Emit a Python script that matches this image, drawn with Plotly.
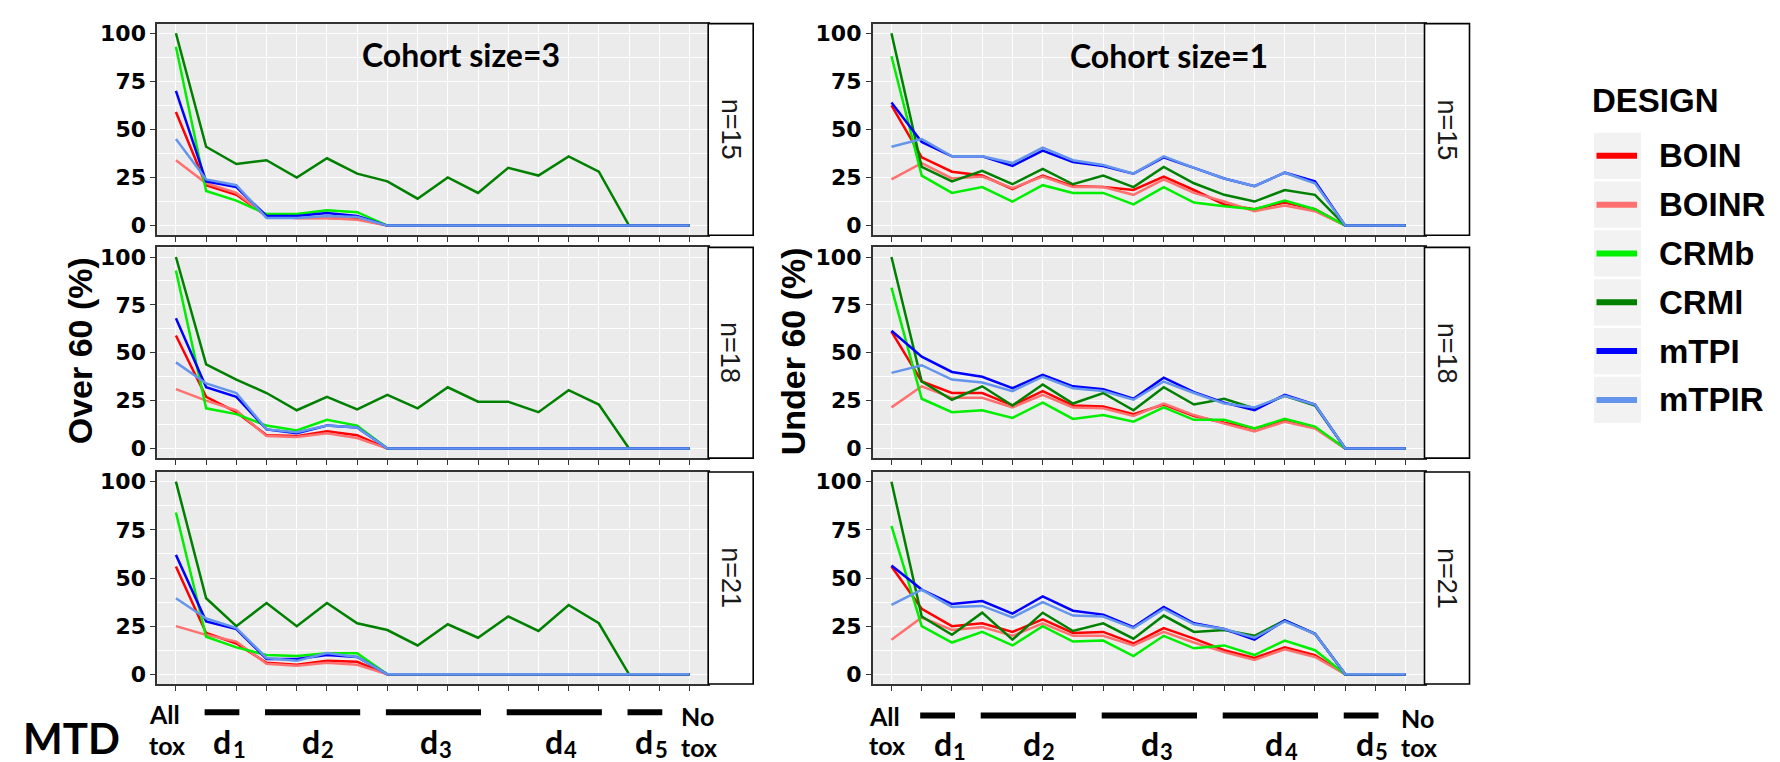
import plotly.graph_objects as go

# ---------------- data ----------------
designs = ["BOIN", "BOINR", "CRMb", "CRMl", "mTPI", "mTPIR"]
colors = {"BOIN": "#FF0000", "BOINR": "#FF7070", "CRMb": "#00EE00",
          "CRMl": "#008000", "mTPI": "#0000FF", "mTPIR": "#6495ED"}
x_positions = list(range(18))
row_labels = ["n=15", "n=18", "n=21"]
col_titles = ["Cohort size=3", "Cohort size=1"]
y_titles = ["Over 60 (%)", "Under 60 (%)"]
y_ticks = [0, 25, 50, 75, 100]

Z11 = [0] * 11
Z3 = [0, 0, 0]

over_n15 = {
    "BOIN":  [59, 21, 16, 5, 4, 4, 3.5] + Z11,
    "BOINR": [34, 22, 17, 5, 4, 4, 3] + Z11,
    "CRMb":  [93, 18, 13, 6, 6, 8, 7] + Z11,
    "CRMl":  [100, 41, 32, 34, 25, 35, 27, 23, 14, 25, 17, 30, 26, 36, 28] + Z3,
    "mTPI":  [70, 23, 20, 5, 5, 6.5, 5] + Z11,
    "mTPIR": [45, 24, 21, 4, 4, 5, 4.5] + Z11,
}
over_n18 = {
    "BOIN":  [59, 27, 19, 7, 6.5, 9, 7] + Z11,
    "BOINR": [31, 25, 20, 6.5, 6, 8, 5.5] + Z11,
    "CRMb":  [93, 21, 18, 12, 9.5, 15, 12] + Z11,
    "CRMl":  [100, 44, 36, 29, 20, 27, 20.5, 28, 21, 32, 24.5, 24.5, 19, 30.5, 23] + Z3,
    "mTPI":  [68, 32, 27, 10, 8, 12, 11] + Z11,
    "mTPIR": [45, 34, 29, 10, 8.5, 12, 11] + Z11,
}
over_n21 = {
    "BOIN":  [56, 21.5, 16, 6, 5, 7, 6.5] + Z11,
    "BOINR": [25, 20.5, 17, 5.5, 4.5, 6, 5] + Z11,
    "CRMb":  [84, 19.5, 14, 10, 9.5, 11, 11] + Z11,
    "CRMl":  [100, 39.5, 25, 37, 25, 37, 26.5, 23, 15, 26, 19, 30, 22.5, 36, 26.5] + Z3,
    "mTPI":  [62, 27.5, 23.5, 8, 8, 10, 9] + Z11,
    "mTPIR": [39.5, 29, 24, 8.5, 7, 11, 9] + Z11,
}
under_n15 = {
    "BOIN":  [62.5, 35.5, 28, 26, 19, 26, 20.5, 20, 18.5, 25.5, 18.5, 11, 8.5, 12, 8.5] + Z3,
    "BOINR": [24, 32.5, 24.5, 25.5, 19.5, 25.5, 20, 20, 16, 24, 17, 12.5, 7.5, 10.5, 7.5] + Z3,
    "CRMb":  [88, 26, 17, 20, 12.5, 21, 17, 17, 11, 20, 12, 10, 8.5, 13, 8.5] + Z3,
    "CRMl":  [100, 30.5, 23, 28.5, 21.5, 29.5, 21.5, 26, 20, 30.5, 22, 16, 12.5, 18.5, 16] + Z3,
    "mTPI":  [64, 43.5, 36, 36, 31, 39, 33, 31, 27, 35.5, 30, 24.5, 20.5, 27.5, 23] + Z3,
    "mTPIR": [41, 45, 36, 36, 32.5, 40.5, 34, 31.5, 27, 36, 30, 24.5, 20.5, 27.5, 22] + Z3,
}
under_n18 = {
    "BOIN":  [61, 35, 29, 29, 22.5, 30, 22.5, 22, 18, 23, 17, 13.5, 10.5, 14.5, 11] + Z3,
    "BOINR": [21.5, 32.5, 26.5, 26.5, 21.5, 28, 21.5, 21, 17, 23.5, 17.5, 13, 9, 14, 10.5] + Z3,
    "CRMb":  [84, 26, 19, 20, 16, 24, 15.5, 17.5, 14, 21.5, 15, 15, 10.5, 15.5, 11.5] + Z3,
    "CRMl":  [100, 35, 25.5, 32.5, 22.5, 33.5, 23.5, 29, 20, 32, 23, 26, 21, 27.5, 22.5] + Z3,
    "mTPI":  [61.5, 48, 40, 37.5, 31.5, 38.5, 32.5, 31, 26, 37, 29.5, 24, 20, 28, 23] + Z3,
    "mTPIR": [39.5, 43.5, 36, 34.5, 30, 37.5, 31.5, 30, 25.5, 35, 29, 23.5, 21.5, 27.5, 23] + Z3,
}
under_n21 = {
    "BOIN":  [56, 34, 25, 26.5, 22, 28.5, 21.5, 22, 16, 24, 18.5, 12.5, 8.5, 14, 10] + Z3,
    "BOINR": [18, 29.5, 23, 24.5, 20, 26.5, 20, 20, 15, 22, 16.5, 11.5, 7.5, 13, 9] + Z3,
    "CRMb":  [77, 25, 16.5, 22, 15, 25, 17, 17.5, 9.5, 20, 13.5, 15, 10, 17.5, 12.5] + Z3,
    "CRMl":  [100, 30, 20.5, 32, 18, 32, 22.5, 26.5, 18.5, 30.5, 22, 23, 20, 28, 21] + Z3,
    "mTPI":  [56.5, 44, 36.5, 38, 31.5, 40.5, 33, 31, 24.5, 35, 26.5, 23.5, 18, 28, 21] + Z3,
    "mTPIR": [36, 44, 35, 35.5, 29.5, 37.5, 30.5, 30, 24, 34, 26, 23.5, 19, 27.5, 21] + Z3,
}
panels = [[over_n15, over_n18, over_n21], [under_n15, under_n18, under_n21]]

# MTD groups: (subscript, first x, last x)
mtd_groups = [("1", 1, 2), ("2", 3, 6), ("3", 7, 10), ("4", 11, 14), ("5", 15, 16)]

# ---------------- layout helpers ----------------
W, H = 1780, 762
def px(x):
    return x / W
def py(y):
    return 1 - y / H

col_px = [(149.2, 700.2), (864.7, 1416.5)]
strip_w = 45
row_px = [(12.7, 226.0), (238.3, 450.7), (464.7, 678.3)]
x_range = [-0.62, 17.62]

def data_to_px(c, xv):
    a, b = col_px[c]
    return a + (xv - x_range[0]) / (x_range[1] - x_range[0]) * (b - a)

fig = go.Figure()
layout = dict(
    width=W, height=H, margin=dict(l=0, r=0, t=0, b=0),
    paper_bgcolor="white", plot_bgcolor="#EBEBEB", showlegend=False,
)
shapes, annotations = [], []
AX_FONT = dict(family="DejaVu Sans", size=22, color="black", weight="bold")

def note(text, x, y, size, family, xanchor="center", yanchor="middle", angle=0,
         color="black", weight="bold"):
    annotations.append(dict(text=text, xref="paper", yref="paper", x=px(x), y=py(y),
                            xanchor=xanchor, yanchor=yanchor, textangle=angle,
                            showarrow=False, borderpad=0,
                            font=dict(family=family, size=size, color=color, weight=weight)))

for c in range(2):
    for r in range(3):
        idx = c * 3 + r + 1
        xa = "x" if idx == 1 else f"x{idx}"
        ya = "y" if idx == 1 else f"y{idx}"
        data = panels[c][r]
        for d in designs:
            fig.add_trace(go.Scatter(
                x=x_positions, y=data[d], mode="lines", name=d,
                line=dict(color=colors[d], width=2.5),
                xaxis=xa, yaxis=ya, showlegend=False,
            ))
        x0p, x1p = col_px[c]
        y0p, y1p = row_px[r]
        layout[f"xaxis{'' if idx == 1 else idx}"] = dict(
            domain=[px(x0p), px(x1p)], anchor=ya, range=x_range,
            tickvals=x_positions, ticktext=[""] * 18, showgrid=True,
            gridcolor="white", gridwidth=1.3, ticks="outside", ticklen=5,
            tickcolor="#333333", tickwidth=1.2, showline=True, mirror=True,
            linecolor="#333333", linewidth=1.6, zeroline=False, fixedrange=True,
        )
        layout[f"yaxis{'' if idx == 1 else idx}"] = dict(
            domain=[py(y1p), py(y0p)], anchor=xa, range=[-5, 105],
            tickvals=y_ticks, ticktext=[str(v) for v in y_ticks],
            tickfont=AX_FONT, showgrid=True, gridcolor="white", gridwidth=1.3,
            minor=dict(tickvals=[12.5, 37.5, 62.5, 87.5], showgrid=True,
                       gridcolor="white", gridwidth=0.6, ticks=""),
            ticks="outside", ticklen=5, tickcolor="#333333", tickwidth=1.2,
            showline=True, mirror=True, linecolor="#333333", linewidth=1.6,
            zeroline=False, fixedrange=True,
        )
        # facet strip
        shapes.append(dict(type="rect", xref="paper", yref="paper",
                           x0=px(x1p), x1=px(x1p + strip_w), y0=py(y1p), y1=py(y0p),
                           fillcolor="white", line=dict(color="black", width=1.6)))
        note(row_labels[r], x1p + strip_w / 2, (y0p + y1p) / 2, 27, "Liberation Sans",
             angle=90, color="#1A1A1A", weight="normal")

# column titles (inside top panels)
for c, (cx, cy) in enumerate([(453, 44), (1161, 45)]):
    note(col_titles[c], cx, cy, 32, "Lato")

# y titles
for c, cx in enumerate([72, 785]):
    note(y_titles[c], cx, 343, 34, "Liberation Sans", angle=-90)

# MTD bottom labels
bottom_cfg = [
    dict(c=0, xa="x3", bar_y=706.7, dy=0, all_px=140, no_px=672,
         dcent=[1.68, 4.62, 8.51, 12.66, 15.66]),
    dict(c=1, xa="x6", bar_y=710, dy=2, all_px=860, no_px=1392,
         dcent=[1.84, 4.78, 8.68, 12.81, 15.79]),
]
for cfg in bottom_cfg:
    dy = cfg["dy"]
    for (sub, a, b), xc in zip(mtd_groups, cfg["dcent"]):
        shapes.append(dict(type="line", xref=cfg["xa"], yref="paper",
                           x0=a - 0.05, x1=b + 0.1, y0=py(cfg["bar_y"]), y1=py(cfg["bar_y"]),
                           line=dict(color="black", width=6)))
        cpx = data_to_px(cfg["c"], xc)
        note("d", cpx + 5.5, 736 + dy, 32, "Lato", xanchor="right")
        note(sub, cpx + 5.0, 744 + dy, 22, "Lato", xanchor="left")
    note("All", cfg["all_px"], 709 + dy, 25, "Lato", xanchor="left")
    note("tox", cfg["all_px"], 740, 25, "Lato", xanchor="left")
    note("No", cfg["no_px"], 711 + dy, 25, "Lato", xanchor="left")
    note("tox", cfg["no_px"], 742, 25, "Lato", xanchor="left")
note("MTD", 14, 733, 42, "Lato", xanchor="left")

# legend (ggplot style)
note("DESIGN", 1583, 90, 33, "Liberation Sans", xanchor="left")
for i, d in enumerate(designs):
    cy = 146 + 49.2 * i
    shapes.append(dict(type="rect", xref="paper", yref="paper",
                       x0=px(1586), x1=px(1633), y0=py(cy - 23.3), y1=py(cy + 23.3),
                       fillcolor="#F2F2F2", line=dict(width=0)))
    shapes.append(dict(type="line", xref="paper", yref="paper",
                       x0=px(1588.5), x1=px(1629), y0=py(cy), y1=py(cy),
                       line=dict(color=colors[d], width=6)))
    note(d, 1650, cy, 33, "Liberation Sans", xanchor="left")

layout["shapes"] = shapes
layout["annotations"] = annotations
fig.update_layout(**layout)
fig.write_html("out.html")
